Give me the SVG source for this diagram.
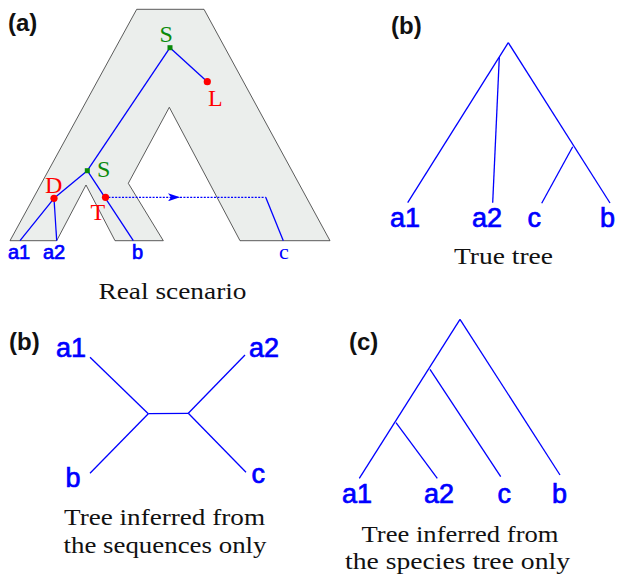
<svg xmlns="http://www.w3.org/2000/svg" width="617" height="576" viewBox="0 0 617 576">
<style>
.edge{stroke:#0000ff;stroke-width:1.3;fill:none}
.lbl{font-family:"Liberation Sans",Arial,sans-serif;fill:#0000ff;stroke:#0000ff;stroke-width:0.7}
.ser{font-family:"Liberation Serif","Times New Roman",serif}
.cap{font-family:"Liberation Serif","Times New Roman",serif;fill:#111;font-size:23px;text-anchor:middle}
.panel{font-family:"Liberation Sans",Arial,sans-serif;font-weight:bold;font-size:24px;fill:#111}
.red{fill:#ff0000}
.grn{fill:#0a8a0a}
</style>
<defs>
<marker id="arr" markerWidth="12" markerHeight="8" refX="12" refY="4" orient="auto" markerUnits="userSpaceOnUse">
<path d="M0,0 L12,4 L0,8 L3,4 Z" fill="#0000ff"/>
</marker>
</defs>
<rect width="617" height="576" fill="#fff"/>

<!-- Panel (a) -->
<g id="panel-a-label"><text class="panel" x="8" y="31">(a)</text></g>
<g id="species-tree">
<polygon points="136.7,9.3 204,9.3 330,240.7 240,240.7 169.3,107.3 128.3,183.3 163.3,240.7 115,240.7 86,185 56.7,240.7 10,240.7" fill="#ebeeec" stroke="#333" stroke-width="0.8"/>
</g>
<g id="connectors-a">
<line class="edge" x1="170" y1="47.7" x2="87.3" y2="170.7"/>
<line class="edge" x1="170" y1="47.7" x2="207.3" y2="81.7"/>
<line class="edge" x1="87.3" y1="170.7" x2="54" y2="198.3"/>
<line class="edge" x1="87.3" y1="170.7" x2="133.3" y2="240.7"/>
<line class="edge" x1="54" y1="198.3" x2="20" y2="240.7"/>
<line class="edge" x1="54" y1="198.3" x2="56.7" y2="240.7"/>
<line class="edge" x1="105" y1="197.3" x2="180" y2="197.3" stroke-dasharray="2 1.4" marker-end="url(#arr)"/>
<line class="edge" x1="180" y1="197.3" x2="265.7" y2="197.3" stroke-dasharray="2 1.4"/>
<line class="edge" x1="265.7" y1="197.3" x2="283.3" y2="240.7"/>
</g>
<g id="node-S1"><rect x="167.5" y="45.2" width="5" height="5" class="grn"/><text class="ser grn" x="159.5" y="41.7" font-size="24">S</text></g>
<g id="node-L"><circle cx="207.3" cy="81.7" r="3.6" class="red"/><text class="ser red" x="208" y="106" font-size="24">L</text></g>
<g id="node-S2"><rect x="84.8" y="168.2" width="5" height="5" class="grn"/><text class="ser grn" x="97" y="176.7" font-size="24">S</text></g>
<g id="node-D"><circle cx="54" cy="198.3" r="3.6" class="red"/><text class="ser red" x="45" y="193.3" font-size="24">D</text></g>
<g id="node-T"><circle cx="105.5" cy="197.3" r="3.6" class="red"/><text class="ser red" x="90.5" y="220" font-size="24">T</text></g>
<g id="leaves-a">
<text class="lbl" x="8" y="259" font-size="20" stroke-width="0.5">a1</text>
<text class="lbl" x="43" y="259" font-size="20" stroke-width="0.5">a2</text>
<text class="lbl" x="132" y="259" font-size="20" stroke-width="0.5">b</text>
<text class="ser" x="279" y="259" font-size="22" fill="#0000ff">c</text>
</g>
<g id="caption-a"><text class="cap" x="172.5" y="298.5" textLength="148" lengthAdjust="spacingAndGlyphs">Real scenario</text></g>

<!-- Panel (b) top -->
<g id="panel-b1-label"><text class="panel" x="391" y="34">(b)</text></g>
<g id="connectors-b1">
<line class="edge" x1="508.3" y1="42.7" x2="407.7" y2="202.7"/>
<line class="edge" x1="499.3" y1="57.3" x2="492.7" y2="202.7"/>
<line class="edge" x1="508.3" y1="42.7" x2="610" y2="203"/>
<line class="edge" x1="572.7" y1="146.7" x2="541.7" y2="203.3"/>
</g>
<g id="leaves-b1">
<text class="lbl" x="390" y="226.7" font-size="27">a1</text>
<text class="lbl" x="472" y="226.7" font-size="27">a2</text>
<text class="lbl" x="527.5" y="226.7" font-size="27">c</text>
<text class="lbl" x="600" y="226.7" font-size="27">b</text>
</g>
<g id="caption-b1"><text class="cap" x="503.5" y="263.5" textLength="99" lengthAdjust="spacingAndGlyphs">True tree</text></g>

<!-- Panel (b) bottom -->
<g id="panel-b2-label"><text class="panel" x="9" y="350">(b)</text></g>
<g id="connectors-b2">
<line class="edge" x1="90" y1="357.3" x2="148.3" y2="413.7"/>
<line class="edge" x1="148.3" y1="413.7" x2="188.3" y2="413.3"/>
<line class="edge" x1="188.3" y1="413.3" x2="245" y2="355"/>
<line class="edge" x1="148.3" y1="413.7" x2="90" y2="473.3"/>
<line class="edge" x1="188.3" y1="413.3" x2="246" y2="472.3"/>
</g>
<g id="leaves-b2">
<text class="lbl" x="56" y="357.3" font-size="27">a1</text>
<text class="lbl" x="249" y="357" font-size="27">a2</text>
<text class="lbl" x="65.5" y="486.7" font-size="27">b</text>
<text class="lbl" x="251.5" y="483.3" font-size="27">c</text>
</g>
<g id="caption-b2">
<text class="cap" x="164.5" y="525" textLength="201" lengthAdjust="spacingAndGlyphs">Tree inferred from</text>
<text class="cap" x="165" y="553.3" textLength="203" lengthAdjust="spacingAndGlyphs">the sequences only</text>
</g>

<!-- Panel (c) -->
<g id="panel-c-label"><text class="panel" x="349" y="350">(c)</text></g>
<g id="connectors-c">
<line class="edge" x1="460" y1="319.3" x2="359.3" y2="478.3"/>
<line class="edge" x1="460" y1="319.3" x2="560" y2="475"/>
<line class="edge" x1="430" y1="369.3" x2="500.7" y2="476.7"/>
<line class="edge" x1="396" y1="422.7" x2="437.3" y2="478.3"/>
</g>
<g id="leaves-c">
<text class="lbl" x="342" y="502.7" font-size="27">a1</text>
<text class="lbl" x="424" y="502.7" font-size="27">a2</text>
<text class="lbl" x="497.5" y="502.7" font-size="27">c</text>
<text class="lbl" x="552" y="502.7" font-size="27">b</text>
</g>
<g id="caption-c">
<text class="cap" x="460" y="541.7" textLength="197" lengthAdjust="spacingAndGlyphs">Tree inferred from</text>
<text class="cap" x="457.5" y="569" textLength="225" lengthAdjust="spacingAndGlyphs">the species tree only</text>
</g>
</svg>
